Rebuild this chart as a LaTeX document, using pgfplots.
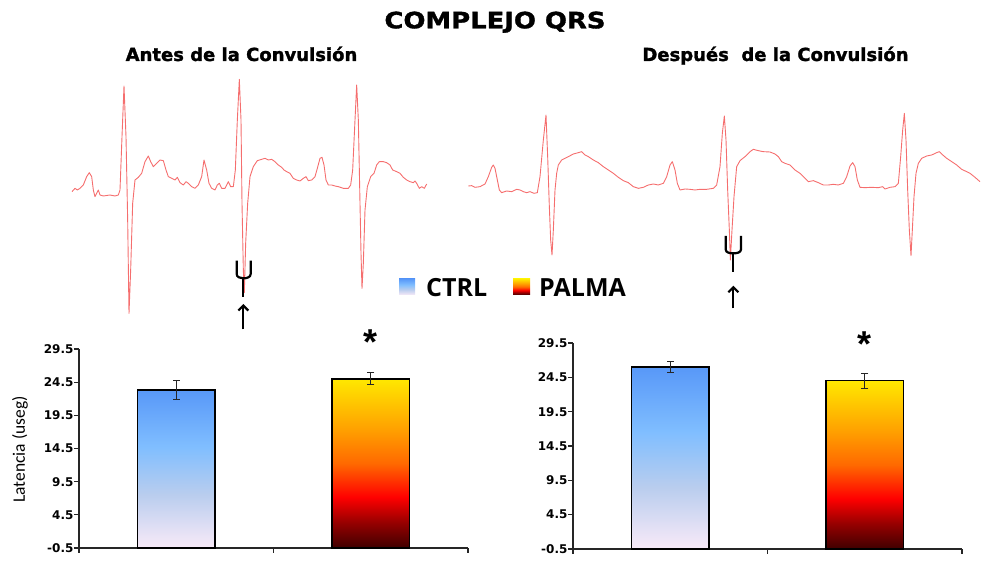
\documentclass[border=0pt]{standalone}
\usepackage{pgfplots}
\pgfplotsset{compat=1.18}
\usepackage{fontspec}
\setmainfont{DejaVu Sans}
\newfontfamily\osb{Open Sans}
\newfontfamily\carl{Carlito}
\newfontfamily\lsb{Liberation Sans}
\newfontfamily\heavy{DejaVu Sans Bold}[FakeBold=1.5]
\newfontfamily\heavywide{DejaVu Sans Bold}[FakeBold=1.5, FakeStretch=1.15]
\newfontfamily\tickf{DejaVu Sans Bold}
\usetikzlibrary{arrows.meta}
\definecolor{ecg}{RGB}{245,110,110}
\definecolor{cbot}{RGB}{248,234,248}
\definecolor{cm1}{RGB}{185,205,238}
\definecolor{cm2}{RGB}{128,190,255}
\definecolor{ctop}{RGB}{88,152,248}
\definecolor{p0}{RGB}{64,0,0}
\definecolor{p1}{RGB}{150,0,0}
\definecolor{p2}{RGB}{255,0,0}
\definecolor{p3}{RGB}{255,105,0}
\definecolor{p4}{RGB}{255,160,0}
\definecolor{p5}{RGB}{255,232,0}
\pgfdeclareverticalshading{ctrlsh}{100bp}{color(0bp)=(cbot); color(25bp)=(cbot); color(42bp)=(cm1); color(57bp)=(cm2); color(75bp)=(ctop); color(100bp)=(ctop)}
\pgfdeclareverticalshading{palmash}{100bp}{color(0bp)=(p0); color(25bp)=(p0); color(32.5bp)=(p1); color(40bp)=(p2); color(50bp)=(p3); color(60bp)=(p4); color(75bp)=(p5); color(100bp)=(p5)}
\pgfplotsset{
  barax/.style={
    scale only axis, xmin=0, xmax=2, ymin=-0.5, ymax=29.5,
    axis lines=left, axis line style={-, black!85, line width=1.2pt},
    ytick={-0.5,4.5,9.5,14.5,19.5,24.5,29.5},
    xtick={0,1,2}, xticklabels={},
    tick align=outside, major tick length=5pt,
    tick style={black!85, line width=1.1pt},
    yticklabel style={font=\tickf\fontsize{12}{12}\selectfont, /pgf/number format/fixed, /pgf/number format/fixed zerofill, /pgf/number format/precision=1, /pgf/number format/assume math mode=true, xshift=3pt},
    clip=false,
  },
  % error bar: line from mean-err to mean+err with a cap mark at each end
  errp/.style={black!85, line width=0.9pt, mark=-, mark size=3.5pt, mark options={solid, line width=0.9pt}, forget plot},
  ecgax/.style={scale only axis, hide axis, y dir=reverse, xmin=0, ymin=0, clip=false},
}
\begin{document}
\begin{tikzpicture}
\path (0,0) rectangle (982pt,561pt);
% titles
\node[anchor=base, inner sep=0, font=\heavywide\fontsize{22.5}{22.5}\selectfont] at (495pt,532.7pt) {COMPLEJO QRS};
\node[anchor=base, inner sep=0, font=\heavy\fontsize{18}{18}\selectfont] at (241.5pt,500pt) {Antes de la Convulsión};
\node[anchor=base, inner sep=0, font=\heavy\fontsize{18}{18}\selectfont] at (775.5pt,500pt) {Después\ \ de la Convulsión};
% legend
\shade[shading=ctrlsh] (399pt,266pt) rectangle (415pt,282pt);
\shade[shading=palmash] (513pt,266pt) rectangle (530pt,282pt);
\node[anchor=base west, inner sep=0, font=\osb\bfseries\fontsize{25}{25}\selectfont] at (426pt,264pt) {CTRL};
\node[anchor=base west, inner sep=0, font=\osb\bfseries\fontsize{25}{25}\selectfont] at (539pt,264pt) {PALMA};
% y label
\node[rotate=90, inner sep=0, font=\carl\fontsize{17.5}{17.5}\selectfont] at (20pt,111.5pt) {Latencia (useg)};

% left ECG
\begin{axis}[ecgax, at={(60pt,491pt)}, anchor=north west, width=380pt, height=260pt, xmax=1140, ymax=780]
\addplot[ecg, line width=0.9pt, line join=round] coordinates {
(36,365)(45,355)(52,360)(60,355)(70,345)(80,320)(88,308)(95,320)(100,360)(105,380)(110,370)(115,360)(120,375)(130,378)(150,375)(165,378)(175,375)(180,360)(186,200)(192,48)(198,200)(203,450)(207,730)(212,600)(218,400)(225,330)(235,322)(245,310)(255,275)(265,258)(272,275)(280,290)(290,280)(300,270)(310,272)(318,300)(325,320)(335,325)(345,330)(352,322)(360,338)(370,345)(378,335)(385,340)(395,350)(405,355)(415,345)(425,320)(432,270)(440,300)(447,340)(455,355)(465,360)(472,345)(478,340)(485,355)(495,355)(505,335)(512,350)(520,350)(526,300)(532,150)(538,28)(543,150)(546,400)(550,600)(553,668)(557,520)(563,400)(570,320)(580,290)(592,272)(605,268)(615,265)(625,270)(635,268)(645,275)(655,285)(665,292)(672,300)(680,305)(690,310)(700,325)(710,330)(720,333)(730,325)(738,320)(745,332)(755,330)(765,320)(772,295)(780,265)(786,262)(792,285)(798,330)(805,345)(815,345)(825,348)(835,350)(850,355)(865,355)(872,345)(878,300)(885,150)(890,45)(895,150)(900,400)(903,550)(906,655)(910,580)(915,420)(922,350)(932,320)(942,310)(950,285)(958,275)(970,275)(980,278)(990,285)(998,300)(1010,305)(1020,310)(1030,322)(1040,330)(1050,335)(1060,338)(1065,333)(1070,340)(1078,355)(1085,350)(1093,355)(1100,342)
};
\draw[black, line width=2.2pt] (axis cs:530,572) -- (axis cs:530,612) to[out=-90,in=180] (axis cs:550,625) to[out=0,in=-90] (axis cs:572,612) -- (axis cs:572,572);
\draw[black, line width=2.2pt] (axis cs:550,625) -- (axis cs:550,682);
\draw[black, line width=2.2pt, -{Straight Barb[length=5pt,width=10pt]}] (axis cs:550,778) -- (axis cs:550,702);
\end{axis}

% right ECG
\begin{axis}[ecgax, at={(460pt,471pt)}, anchor=north west, width=522pt, height=230pt, xmax=1566, ymax=690]
\addplot[ecg, line width=0.9pt, line join=round] coordinates {
(25,288)(35,287)(45,292)(60,290)(75,282)(85,260)(95,232)(100,225)(105,235)(112,270)(118,300)(125,308)(140,303)(155,305)(170,298)(180,300)(190,305)(200,308)(210,305)(222,310)(232,308)(240,260)(250,150)(258,75)(263,200)(268,350)(272,450)(276,495)(280,420)(285,300)(290,250)(295,225)(305,210)(315,205)(325,200)(340,192)(355,188)(365,185)(375,195)(385,200)(400,210)(415,218)(430,230)(445,240)(460,250)(475,262)(490,272)(505,278)(520,290)(535,295)(550,292)(565,285)(580,282)(595,285)(610,280)(620,260)(630,225)(637,215)(645,240)(652,280)(660,300)(675,297)(690,298)(705,300)(720,298)(740,298)(760,295)(770,285)(780,230)(787,130)(793,78)(798,150)(803,300)(808,420)(811,510)(816,420)(822,320)(830,230)(840,212)(855,200)(870,185)(880,178)(895,182)(910,185)(930,186)(945,192)(955,200)(965,215)(975,220)(990,225)(1005,240)(1020,250)(1035,265)(1045,275)(1060,272)(1075,278)(1090,285)(1105,285)(1120,283)(1135,285)(1150,280)(1160,260)(1170,228)(1178,218)(1185,230)(1192,270)(1200,292)(1215,293)(1235,292)(1255,293)(1268,290)(1275,297)(1290,292)(1305,290)(1315,280)(1322,200)(1328,120)(1333,70)(1338,150)(1343,300)(1348,420)(1353,497)(1357,420)(1362,320)(1368,250)(1375,220)(1385,205)(1400,198)(1415,195)(1430,188)(1438,185)(1445,192)(1460,205)(1475,215)(1490,225)(1505,238)(1520,245)(1530,250)(1545,262)(1560,275)
};
\draw[black, line width=2.2pt] (axis cs:797,438) -- (axis cs:797,478) to[out=-90,in=180] (axis cs:820,490) to[out=0,in=-90] (axis cs:843,478) -- (axis cs:843,438);
\draw[black, line width=2.2pt] (axis cs:820,490) -- (axis cs:820,547);
\draw[black, line width=2.2pt, -{Straight Barb[length=5pt,width=10pt]}] (axis cs:820,655) -- (axis cs:820,587);
\end{axis}

% left bars (CTRL 23.3 +- 1.4, PALMA 25.0 +- 0.9)
\begin{axis}[barax, at={(79pt,13pt)}, anchor=south west, width=389pt, height=199pt]
\addplot[draw=black, line width=1.4pt, line join=miter, shade, shading=ctrlsh] coordinates {(0.3,-0.5) (0.3,23.3) (0.7,23.3) (0.7,-0.5)} -- cycle;
\addplot[draw=black, line width=1.4pt, line join=miter, shade, shading=palmash] coordinates {(1.3,-0.5) (1.3,25.0) (1.7,25.0) (1.7,-0.5)} -- cycle;
\addplot[errp] coordinates {(0.5,21.9) (0.5,24.7)};
\addplot[errp] coordinates {(1.5,24.1) (1.5,25.9)};
\node[anchor=base, inner sep=0, font=\lsb\bfseries\fontsize{36}{36}\selectfont] at (axis cs:1.5,28.7) {*};
\end{axis}

% right bars (CTRL 26.0 +- 0.8, PALMA 24.0 +- 1.05)
\begin{axis}[barax, at={(573pt,12pt)}, anchor=south west, width=389pt, height=206pt]
\addplot[draw=black, line width=1.4pt, line join=miter, shade, shading=ctrlsh] coordinates {(0.3,-0.5) (0.3,26.0) (0.7,26.0) (0.7,-0.5)} -- cycle;
\addplot[draw=black, line width=1.4pt, line join=miter, shade, shading=palmash] coordinates {(1.3,-0.5) (1.3,24.0) (1.7,24.0) (1.7,-0.5)} -- cycle;
\addplot[errp] coordinates {(0.5,25.2) (0.5,26.8)};
\addplot[errp] coordinates {(1.5,22.95) (1.5,25.05)};
\node[anchor=base, inner sep=0, font=\lsb\bfseries\fontsize{36}{36}\selectfont] at (axis cs:1.5,27.5) {*};
\end{axis}
\end{tikzpicture}
\end{document}
